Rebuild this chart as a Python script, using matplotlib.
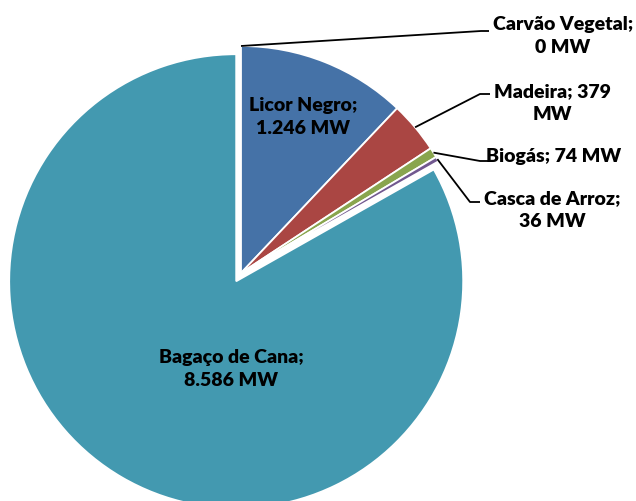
import numpy as np
import matplotlib
matplotlib.use('Agg')
import matplotlib.pyplot as plt

# Data
labels = ['Carvão Vegetal', 'Licor Negro', 'Madeira', 'Biogás',
          'Casca de Arroz', 'Bagaço de Cana']
values = [0, 1246, 379, 74, 36, 8586]
value_text = ['0 MW', '1.246 MW', '379 MW', '74 MW', '36 MW', '8.586 MW']
colors = ['#DB843D', '#4572A7', '#AA4643', '#89A54E', '#71588F', '#4399B0']

plt.rcParams['font.family'] = ['Lato', 'DejaVu Sans']

W, H = 636, 502
R = 227.0            # pie radius in px
cx, cy = 241, 274    # pie centre in px (from top-left)

fig = plt.figure(figsize=(W / 100, H / 100), dpi=100)
ax = fig.add_axes([0, 0, 1, 1])

explode = [0, 0, 0, 0, 0, 0.042]
wedges, _ = ax.pie(values, colors=colors, startangle=90, counterclock=False,
                   explode=explode, radius=1,
                   wedgeprops=dict(edgecolor='white', linewidth=1.3))

# pie() resets limits, so set them afterwards
ax.set_xlim(-cx / R, (W - cx) / R)
ax.set_ylim((cy - H) / R, cy / R)
ax.set_aspect('equal')
ax.axis('off')

def px(x, y):
    return (x - cx) / R, (cy - y) / R

tk = dict(fontsize=14, fontweight='heavy', color='black', ha='center',
          va='center', linespacing=1.42)

# inside labels
ax.text(*px(303, 117), f'{labels[1]};\n{value_text[1]}', **tk)
ax.text(*px(231, 369), f'{labels[5]};\n{value_text[5]}', **tk)

# outside labels with leaders: (index, elbow px, end px, text px, text)
outside = [
    (0, (481, 32), (489, 32), (563, 36), f'{labels[0]};\n{value_text[0]}'),
    (2, (480, 95), (490, 95), (552, 103), f'{labels[2]}; 379\nMW'),
    (3, (480, 162), (490, 162), (554, 157), f'{labels[3]}; {value_text[3]}'),
    (4, (470, 203), (480, 203), (552, 210), f'{labels[4]};\n{value_text[4]}'),
]
for i, elbow, end, tpos, txt in outside:
    w = wedges[i]
    ang = np.deg2rad((w.theta1 + w.theta2) / 2)
    x0, y0 = np.cos(ang), np.sin(ang)
    ex, ey = px(*elbow)
    fx, fy = px(*end)
    ax.plot([x0, ex, fx], [y0, ey, fy], color='black', lw=1.3,
            solid_capstyle='butt', zorder=5)
    ax.text(*px(*tpos), txt, **tk)

fig.savefig('out.png', dpi=100)
